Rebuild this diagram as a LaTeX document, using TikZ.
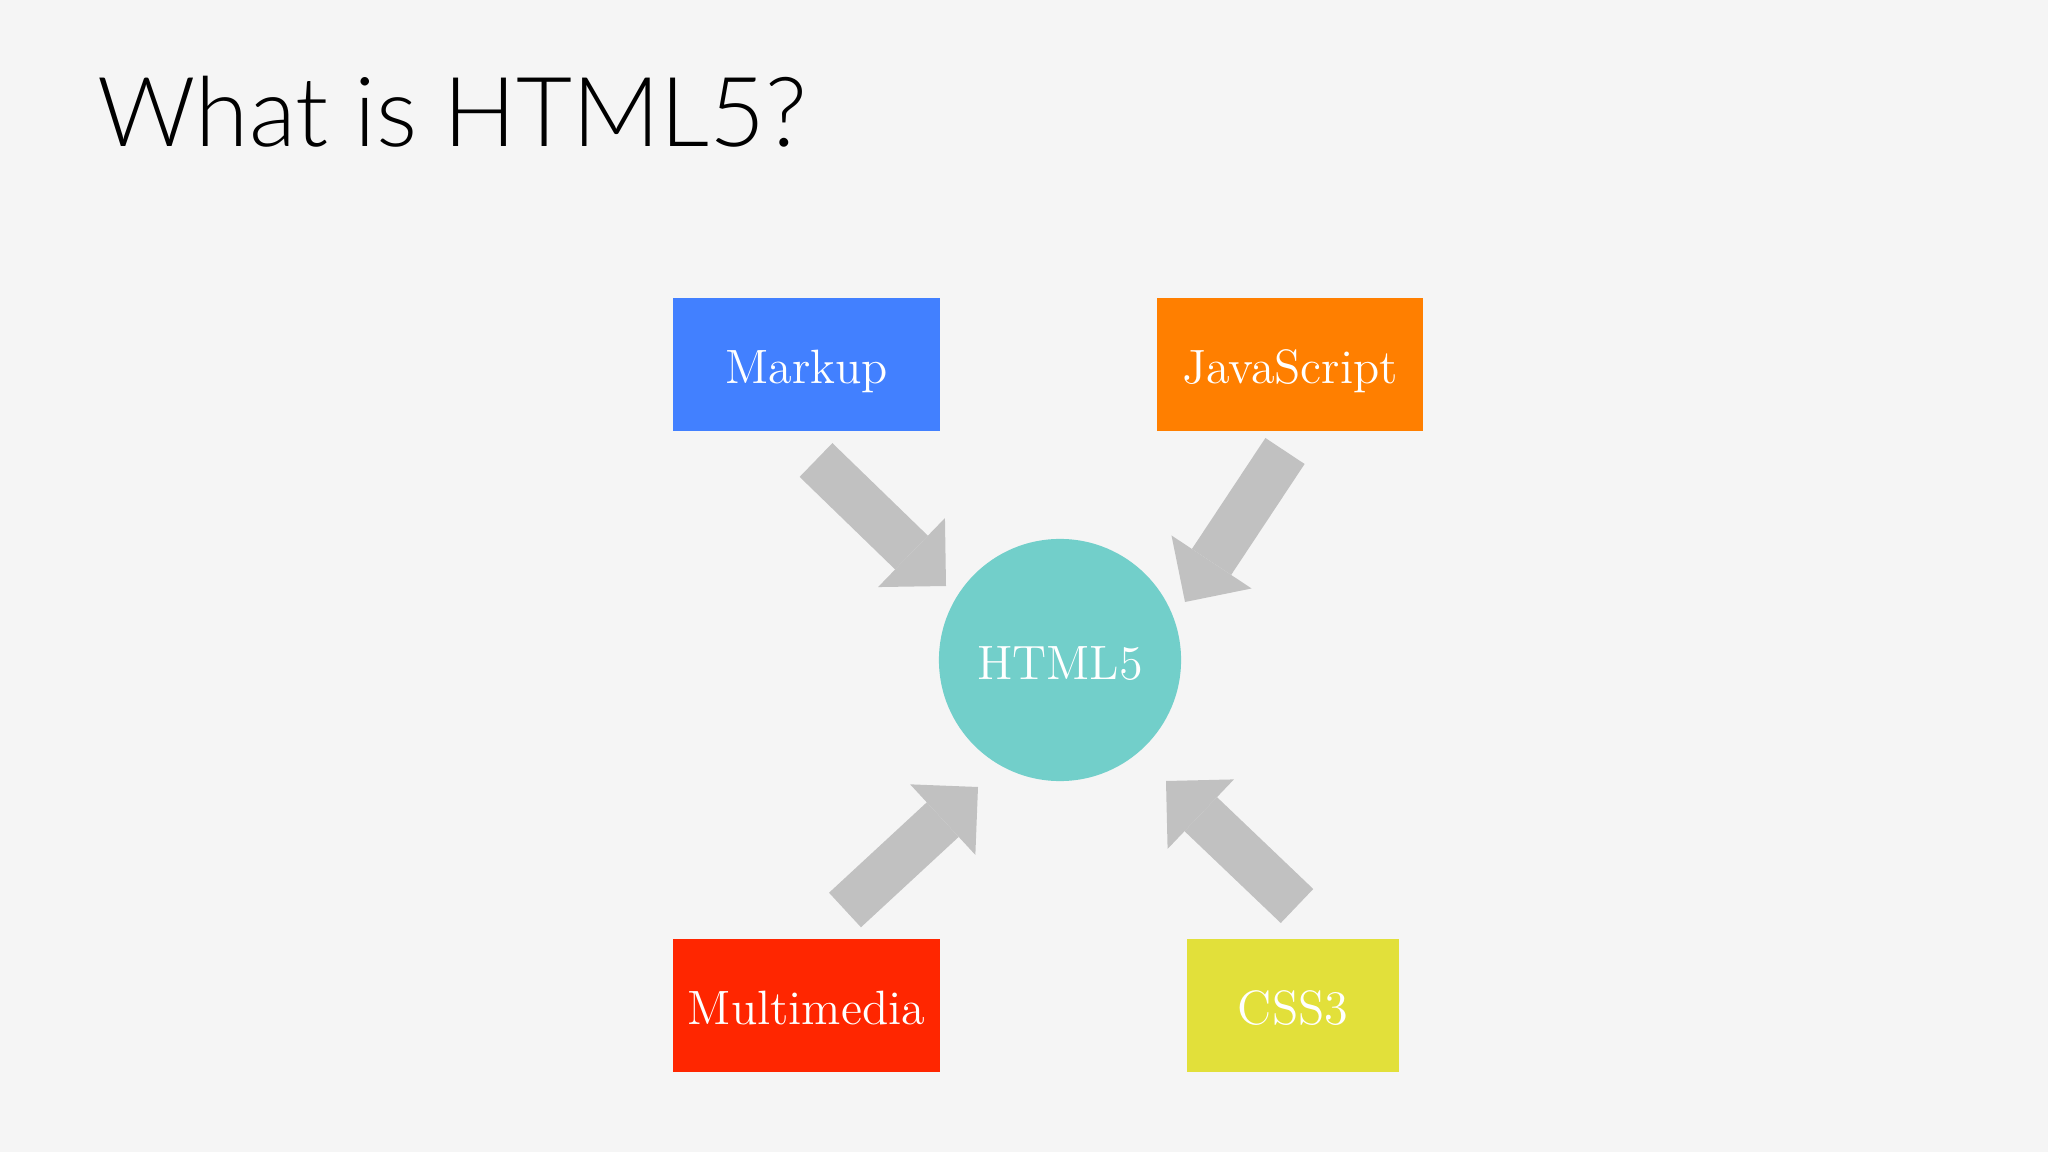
\documentclass[tikz,border=0pt]{standalone}
\usepackage{fontspec}
\usetikzlibrary{arrows.meta}
\newfontfamily\titlefont{Lato Light}
\definecolor{bgcol}{HTML}{F5F5F5}
\definecolor{markupblue}{HTML}{4280FF}
\definecolor{jsorange}{HTML}{FF7F00}
\definecolor{mmred}{HTML}{FF2600}
\definecolor{cssyellow}{HTML}{E2E03A}
\definecolor{htmlteal}{HTML}{72CFCA}
\definecolor{arrowgray}{HTML}{C1C1C1}
\begin{document}
\begin{tikzpicture}[x=0.01cm,y=-0.01cm,
    box/.style={inner sep=0pt,minimum height=1.33cm,text=white,
      font=\fontsize{13.7}{16}\selectfont,text height=11pt,text depth=0pt},
    bigarrow/.style={draw=arrowgray,line width=0.47cm,
      -{Triangle[length=0.48cm,width=0.96cm,line width=0pt]}}]
      \fill[bgcol] (0,0) rectangle (2048,1152);
      \useasboundingbox (0,0) rectangle (2048,1152);
      \node[anchor=base west,inner sep=0pt,font=\titlefont\fontsize{27.5}{32}\selectfont] (title) at (97,147) {What is HTML5?};
      % boxes and the circle
      \node[box,fill=markupblue,minimum width=2.67cm] (markup) at (806.5,364.5) {Markup};
      \node[box,fill=jsorange,minimum width=2.66cm] (js) at (1290,364.5) {JavaScript};
      \node[box,fill=mmred,minimum width=2.67cm] (media) at (806.5,1005.5) {Multimedia};
      \node[box,fill=cssyellow,minimum width=2.12cm] (css) at (1293,1005.5) {CSS3};
      \node[box,circle,fill=htmlteal,minimum size=2.42cm] (html) at (1060,660) {HTML5};
      % arrows
      \coordinate (markuptail) at (816,460);
      \coordinate (markuptip) at (946,586);
      \coordinate (jstail) at (1285,451);
      \coordinate (jstip) at (1185,602);
      \coordinate (mediatail) at (845,910);
      \coordinate (mediatip) at (978,787);
      \coordinate (csstail) at (1297,906);
      \coordinate (csstip) at (1166,781);
      \draw[bigarrow] (markuptail) -- (markuptip);
      \draw[bigarrow] (jstail) -- (jstip);
      \draw[bigarrow] (mediatail) -- (mediatip);
      \draw[bigarrow] (csstail) -- (csstip);
\end{tikzpicture}
\end{document}
